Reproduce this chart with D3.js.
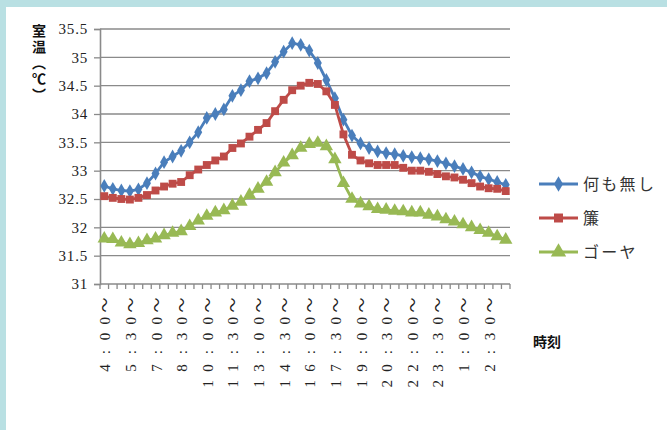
<!DOCTYPE html>
<html>
<head>
<meta charset="utf-8">
<script src="https://cdn.jsdelivr.net/npm/d3@7"></script>
<style>
  html, body { margin: 0; padding: 0; background: #fff; }
  svg { display: block; }
</style>
</head>
<body>
<svg id="chart" width="667" height="430"></svg>
<script>
// Half-hour slots, 4:00 through 3:30 the next morning
const categories = [
  "4:00","4:30","5:00","5:30","6:00","6:30","7:00","7:30","8:00","8:30",
  "9:00","9:30","10:00","10:30","11:00","11:30","12:00","12:30","13:00","13:30",
  "14:00","14:30","15:00","15:30","16:00","16:30","17:00","17:30","18:00","18:30",
  "19:00","19:30","20:00","20:30","21:00","21:30","22:00","22:30","23:00","23:30",
  "0:00","0:30","1:00","1:30","2:00","2:30","3:00","3:30"
];

// Slots that carry a label on the time axis
const tickCategories = [
  "4:00","5:30","7:00","8:30","10:00","11:30","13:00","14:30",
  "16:00","17:30","19:00","20:30","22:00","23:30","1:00","2:30"
];

const yTicks = [31, 31.5, 32, 32.5, 33, 33.5, 34, 34.5, 35, 35.5];

// Room temperature (°C)
const nothing = [
  32.73, 32.68, 32.65, 32.64, 32.67, 32.78, 32.95, 33.15, 33.25, 33.35,
  33.50, 33.68, 33.93, 34.00, 34.08, 34.32, 34.42, 34.58, 34.63, 34.72,
  34.92, 35.10, 35.25, 35.22, 35.12, 34.90, 34.60, 34.28, 33.90, 33.62,
  33.48, 33.40, 33.34, 33.31, 33.29, 33.26, 33.24, 33.22, 33.20, 33.17,
  33.13, 33.08, 33.03, 32.97, 32.90, 32.85, 32.80, 32.75
];
const sudare = [
  32.55, 32.52, 32.50, 32.49, 32.52, 32.57, 32.65, 32.72, 32.77, 32.80,
  32.92, 33.02, 33.10, 33.18, 33.25, 33.40, 33.48, 33.60, 33.72, 33.84,
  34.05, 34.25, 34.42, 34.50, 34.55, 34.53, 34.40, 34.16, 33.64, 33.28,
  33.18, 33.13, 33.10, 33.10, 33.10, 33.05, 33.00, 33.00, 32.98, 32.94,
  32.90, 32.88, 32.84, 32.78, 32.72, 32.69, 32.68, 32.64
];
const goya = [
  31.80, 31.79, 31.73, 31.70, 31.72, 31.77, 31.80, 31.86, 31.90, 31.93,
  32.02, 32.12, 32.20, 32.26, 32.30, 32.38, 32.45, 32.57, 32.68, 32.80,
  32.97, 33.14, 33.27, 33.40, 33.47, 33.49, 33.43, 33.20, 32.78, 32.50,
  32.42, 32.37, 32.32, 32.31, 32.29, 32.28, 32.26, 32.26, 32.22, 32.19,
  32.14, 32.10, 32.05, 32.00, 31.95, 31.90, 31.84, 31.78
];

const seriesNames = ["何も無し", "簾", "ゴーヤ"];
const seriesColors = ["#4A7EBB", "#BE4B48", "#98B954"];
const seriesValues = [nothing, sudare, goya];
const seriesSymbols = [d3.symbolDiamond, d3.symbolSquare, d3.symbolTriangle];
const symbolSizes = [55, 62, 78];

const svg = d3.select("#chart");
const W = 667, H = 430;
const plot = { left: 100, right: 510, top: 29, bottom: 284 };

// Frame: light cyan band along the top and left edges
svg.append("rect").attr("width", W).attr("height", H).attr("fill", "#B9E0E3");
svg.append("rect").attr("x", 6).attr("y", 7).attr("width", W - 6).attr("height", H - 7).attr("fill", "#fff");

const x = d3.scaleBand().domain(categories).range([plot.left, plot.right]).padding(0);
const y = d3.scaleLinear().domain([31, 35.5]).range([plot.bottom, plot.top]);
const cx = c => x(c) + x.bandwidth() / 2;

const serif = "'Liberation Serif', 'DejaVu Serif', 'Noto Sans CJK JP', serif";
const gridColor = "#8A8A8A";

// Horizontal gridlines
svg.append("g")
  .selectAll("line")
  .data(yTicks.filter(v => v !== 31))
  .join("line")
  .attr("x1", plot.left).attr("x2", plot.right)
  .attr("y1", d => y(d)).attr("y2", d => y(d))
  .attr("stroke", gridColor).attr("stroke-width", 1.3);

// Y axis
const yAxis = svg.append("g")
  .attr("transform", `translate(${plot.left},0)`)
  .call(d3.axisLeft(y).tickValues(yTicks).tickSize(6).tickPadding(6).tickFormat(d => String(d)));
yAxis.select(".domain").attr("stroke", gridColor).attr("stroke-width", 1.6);
yAxis.selectAll(".tick line").attr("stroke", gridColor).attr("stroke-width", 1.3);
yAxis.selectAll(".tick text")
  .attr("font-family", serif).attr("font-size", 15).attr("letter-spacing", 0.8)
  .attr("fill", "#222");

// X axis baseline with ticks on slot boundaries
const xAxis = svg.append("g");
xAxis.append("line")
  .attr("x1", plot.left).attr("x2", plot.right)
  .attr("y1", plot.bottom).attr("y2", plot.bottom)
  .attr("stroke", gridColor).attr("stroke-width", 1.6);
xAxis.selectAll("line.tk")
  .data(categories.concat([null]))
  .join("line")
  .attr("class", "tk")
  .attr("x1", d => d === null ? plot.right : x(d))
  .attr("x2", d => d === null ? plot.right : x(d))
  .attr("y1", plot.bottom).attr("y2", plot.bottom + 5)
  .attr("stroke", gridColor).attr("stroke-width", 1.3);

// Rotated time labels, each glyph on a fixed pitch
const pitch = 15.75;
const labelTop = 297;
xAxis.selectAll("text.lbl")
  .data(tickCategories)
  .join("text")
  .attr("class", "lbl")
  .attr("transform", d => `translate(${cx(d) + 6},${labelTop}) rotate(-90)`)
  .attr("font-family", serif).attr("font-size", 15).attr("fill", "#222")
  .attr("text-anchor", "middle")
  .each(function(d) {
    const chars = Array.from(d + "～");
    const n = chars.length;
    d3.select(this).selectAll("tspan")
      .data(chars)
      .join("tspan")
      .attr("x", (ch, k) => -(n - 1 - k) * pitch - pitch / 2)
      .attr("y", 0)
      .text(ch => ch);
  });

// Lines and markers
seriesValues.forEach((vals, si) => {
  const pts = categories.map((c, i) => [cx(c), y(vals[i])]);
  svg.append("path")
    .attr("d", d3.line()(pts))
    .attr("fill", "none")
    .attr("stroke", seriesColors[si])
    .attr("stroke-width", 2.8)
    .attr("stroke-linejoin", "round");
  const sym = d3.symbol().type(seriesSymbols[si]).size(symbolSizes[si]);
  svg.append("g")
    .selectAll("path")
    .data(pts)
    .join("path")
    .attr("d", sym)
    .attr("transform", p => `translate(${p[0]},${p[1]})`)
    .attr("fill", seriesColors[si]);
});

// Legend
const legendY = [184, 218, 252];
seriesNames.forEach((name, si) => {
  const g = svg.append("g").attr("transform", `translate(539,${legendY[si]})`);
  g.append("line").attr("x1", 0).attr("x2", 39).attr("y1", 0).attr("y2", 0)
    .attr("stroke", seriesColors[si]).attr("stroke-width", 3);
  g.append("path")
    .attr("d", d3.symbol().type(seriesSymbols[si]).size(symbolSizes[si] * 1.3))
    .attr("transform", "translate(19.5,0)")
    .attr("fill", seriesColors[si]);
  g.append("text")
    .attr("x", 44).attr("y", 0).attr("dy", "0.36em")
    .attr("font-family", "'Noto Sans CJK JP', sans-serif")
    .attr("font-size", 16).attr("letter-spacing", 2.3)
    .attr("fill", "#333")
    .text(name);
});

// Axis titles (temperature title set vertically)
svg.append("text")
  .attr("x", 39).attr("y", 24)
  .style("writing-mode", "vertical-rl")
  .attr("font-family", "'Noto Sans CJK JP', sans-serif")
  .attr("font-weight", "bold").attr("font-size", 14).attr("letter-spacing", 2)
  .attr("fill", "#111")
  .text("室温（℃）");

svg.append("text")
  .attr("x", 533).attr("y", 347)
  .attr("font-family", "'Noto Sans CJK JP', sans-serif")
  .attr("font-weight", "bold").attr("font-size", 14).attr("fill", "#111")
  .text("時刻");
</script>
</body>
</html>
